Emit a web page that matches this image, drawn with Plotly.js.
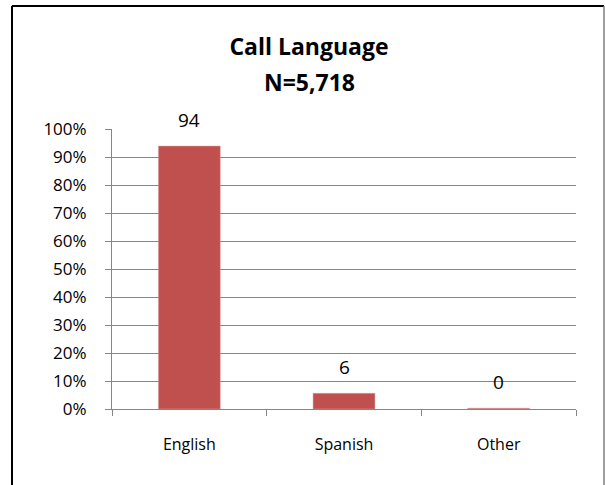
<!DOCTYPE html>
<html>
<head>
<meta charset="utf-8">
<script src="https://cdn.plot.ly/plotly-3.0.1.min.js"></script>
<style>
  html, body { margin: 0; padding: 0; background: #fff; }
  #chart { width: 605px; height: 485px; }
</style>
</head>
<body>
<div id="chart"></div>
<script>
// Data
const categories = ["English", "Spanish", "Other"];
const percentValues = [93.9, 5.6, 0.3];
const labelTexts = percentValues.map(v => String(Math.round(v)));
const yTickValues = [0, 10, 20, 30, 40, 50, 60, 70, 80, 90, 100];
const yTickLabels = ["0%", "10%", "20%", "30%", "40%", "50%", "60%", "70%", "80%", "90%", "100%"];
const chartTitle = "Call Language";
const chartSubtitle = "N=5,718";

const FONT = "'Open Sans', 'Noto Sans', 'DejaVu Sans', sans-serif";
const GRID = "#868686";

const trace = {
  type: "bar",
  x: categories,
  y: percentValues,
  marker: { color: "#C0504D", line: { color: "#D9A09E", width: 0.5 } },
  hoverinfo: "skip"
};

const labelAnnotations = categories.map((c, i) => ({
  x: c, y: percentValues[i], xref: "x", yref: "y",
  text: labelTexts[i], showarrow: false,
  xanchor: "center", yanchor: "middle", yshift: 26,
  font: { family: FONT, size: 19, color: "#000" }
}));

const layout = {
  width: 605, height: 485,
  margin: { l: 112, r: 29, t: 129, b: 76 },
  paper_bgcolor: "#fff", plot_bgcolor: "#fff",
  showlegend: false,
  bargap: 0.6,
  font: { family: FONT, size: 16, color: "#000" },
  title: {
    text: chartTitle,
    x: 309 / 605, xref: "container", xanchor: "center",
    y: 1 - 47 / 485, yref: "container", yanchor: "middle",
    font: { family: FONT, size: 23, weight: "bold", color: "#000" }
  },
  xaxis: {
    type: "category",
    showline: true, linecolor: GRID, linewidth: 1,
    ticks: "outside", tickson: "boundaries", ticklen: 6, tickcolor: GRID,
    ticklabelstandoff: 21,
    showgrid: false, zeroline: false,
    tickfont: { family: FONT, size: 16, color: "#000" }
  },
  yaxis: {
    range: [0, 100],
    tickvals: yTickValues, ticktext: yTickLabels,
    showline: true, linecolor: GRID, linewidth: 1,
    ticks: "outside", ticklen: 6, tickcolor: GRID,
    ticklabelstandoff: 15,
    showgrid: true, gridcolor: GRID, gridwidth: 1,
    zeroline: false,
    tickfont: { family: FONT, size: 17, color: "#000" }
  },
  annotations: [
    {
      xref: "paper", yref: "paper",
      x: (309 - 112) / 464, y: (409 - 82) / 280,
      text: chartSubtitle, showarrow: false,
      xanchor: "center", yanchor: "middle",
      font: { family: FONT, size: 23, weight: "bold", color: "#000" }
    }
  ].concat(labelAnnotations),
  shapes: [
    { type: "line", xref: "paper", yref: "paper",
      x0: (12 - 112) / 464, x1: (604 - 112) / 464,
      y0: (409 - 6) / 280, y1: (409 - 6) / 280,
      line: { color: "#000", width: 2 } },
    { type: "line", xref: "paper", yref: "paper",
      x0: (12 - 112) / 464, x1: (12 - 112) / 464,
      y0: (409 - 6) / 280, y1: (409 - 495) / 280,
      line: { color: "#000", width: 2 } },
    { type: "line", xref: "paper", yref: "paper",
      x0: (604 - 112) / 464, x1: (604 - 112) / 464,
      y0: (409 - 6) / 280, y1: (409 - 495) / 280,
      line: { color: "#7f7f7f", width: 1.5 } }
  ]
};

Plotly.newPlot("chart", [trace], layout, { staticPlot: true, displayModeBar: false });
</script>
</body>
</html>
